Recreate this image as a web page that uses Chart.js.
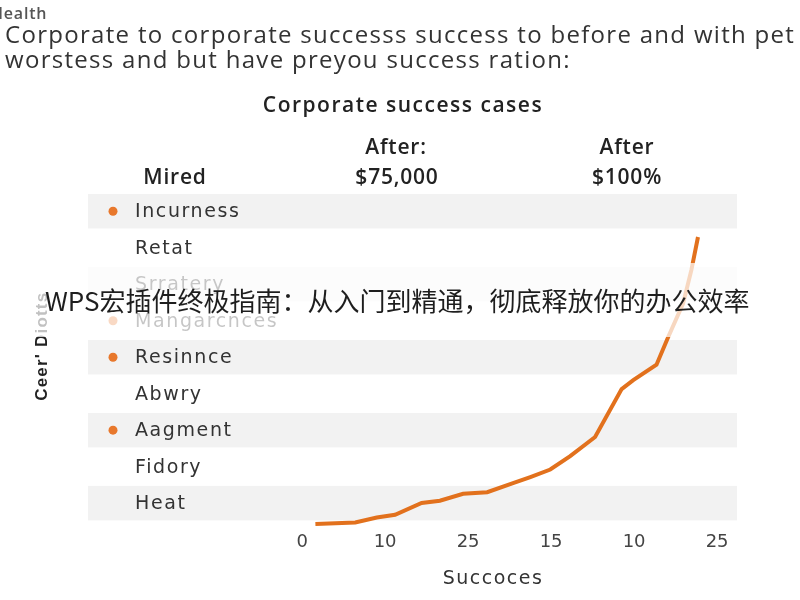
<!DOCTYPE html>
<html>
<head>
<meta charset="utf-8">
<script src="https://cdn.jsdelivr.net/npm/chart.js@4/dist/chart.umd.min.js"></script>
<style>
  html, body { margin: 0; padding: 0; background: #fff; }
  #wrap { position: relative; width: 800px; height: 600px; overflow: hidden; font-family: "Open Sans", sans-serif; }
  canvas { position: absolute; left: 0; top: 0; }
  .t { position: absolute; white-space: nowrap; }
  #kicker { left: -9px; top: 2px; font-size: 16px; font-weight: 600; color: #555; letter-spacing: 0.8px; }
  #para { left: 5px; top: 21px; font-size: 24px; line-height: 25px; color: #333; letter-spacing: 1.3px; }
  #title { left: 0; width: 806px; text-align: center; top: 90px; font-size: 21px; font-weight: 600; color: #222; letter-spacing: 1.5px; }
  .hd { font-size: 21px; font-weight: 600; color: #222; letter-spacing: 0.8px; transform: translateX(-50%); }
  #banner { position: absolute; left: 0; top: 263px; width: 800px; height: 74px; background: rgba(255,255,255,0.72); z-index: 5; }
  #bannerText { position: absolute; left: 45px; top: 280px; font-size: 26px; color: #1e1e1e; font-family: "Noto Sans CJK SC", sans-serif; z-index: 6; line-height: 40px; }
</style>
</head>
<body>
<div id="wrap">
  <canvas id="c" width="800" height="600"></canvas>
  <div class="t" id="kicker">Health</div>
  <div class="t" id="para">Corporate to corporate successs success to before and with pet<br>worstess and but have preyou success ration:</div>
  <div class="t" id="title">Corporate success cases</div>
  <div class="t hd" style="left:175px;top:162px">Mired</div>
  <div class="t hd" style="left:396px;top:132px">After:</div>
  <div class="t hd" style="left:397px;top:162px">$75,000</div>
  <div class="t hd" style="left:627px;top:132px">After</div>
  <div class="t hd" style="left:627px;top:162px">$100%</div>
  <div id="banner"></div>
  <div class="t" id="bannerText">WPS宏插件终极指南：从入门到精通，彻底释放你的办公效率</div>
</div>
<script>
// ---- data ----
const rowLabels = ["Incurness", "Retat", "Srratery", "Mangarcnces", "Resinnce", "Abwry", "Aagment", "Fidory", "Heat"];
const rowBullets = [true, false, false, true, true, false, true, false, false];
const xTickLabels = ["0", "10", "25", "15", "10", "25"];
const seriesX = [0.16, 0.64, 0.90, 1.12, 1.44, 1.66, 1.94, 2.23, 2.55, 2.75, 2.99, 3.23, 3.53, 3.85, 3.99, 4.27, 4.41, 4.59, 4.69, 4.77];
const seriesY = [-0.8, -0.3, 1.2, 2.0, 5.6, 6.3, 8.4, 8.9, 11.7, 13.5, 15.8, 19.9, 25.7, 40.3, 43.0, 47.7, 56.1, 66.3, 76.5, 86.6];
const yTitle = "Ceer' Diotts";
const xTitle = "Succoces";

const points = seriesX.map((x, i) => ({ x: x, y: seriesY[i] }));

const rowsPlugin = {
  id: 'rows',
  beforeDatasetsDraw(chart) {
    const ctx = chart.ctx;
    const sc = chart.scales.yc;
    const area = chart.chartArea;
    const band = sc.height / rowLabels.length;
    ctx.save();
    rowLabels.forEach((lab, i) => {
      const cy = sc.getPixelForValue(i);
      if (i % 2 === 0) {
        ctx.fillStyle = '#f2f2f2';
        ctx.fillRect(area.left, cy - band / 2 + 1, area.right - area.left, band - 2);
      }
      if (rowBullets[i]) {
        ctx.fillStyle = '#e8782c';
        ctx.beginPath();
        ctx.arc(area.left + 25, cy, 4.5, 0, Math.PI * 2);
        ctx.fill();
      }
      ctx.fillStyle = '#333';
      ctx.font = '500 19px "DejaVu Sans", sans-serif';
      ctx.letterSpacing = '1.6px';
      ctx.textBaseline = 'middle';
      ctx.textAlign = 'left';
      ctx.fillText(lab, area.left + 47, cy + 1);
    });
    ctx.restore();
  },
  afterDraw(chart) {
    const ctx = chart.ctx;
    const area = chart.chartArea;
    const xs = chart.scales.x;
    ctx.save();
    // x title
    ctx.fillStyle = '#333';
    ctx.font = '19px "DejaVu Sans", sans-serif';
    ctx.letterSpacing = '1.5px';
    ctx.textAlign = 'center';
    ctx.textBaseline = 'middle';
    ctx.fillText(xTitle, xs.getPixelForValue(2.3), area.bottom + 58);
    // y title
    ctx.translate(42, (area.top + area.bottom) / 2 - 11);
    ctx.rotate(-Math.PI / 2);
    ctx.fillStyle = '#222';
    ctx.font = 'bold 17px "Liberation Sans", sans-serif';
    ctx.letterSpacing = '1.2px';
    ctx.fillText(yTitle, 0, 0);
    ctx.restore();
  }
};

new Chart(document.getElementById('c'), {
  type: 'scatter',
  data: {
    datasets: [{
      data: points,
      showLine: true,
      borderColor: '#e2711d',
      borderWidth: 4,
      pointRadius: 0,
      tension: 0,
      clip: false,
      yAxisID: 'y',
      xAxisID: 'x'
    }]
  },
  options: {
    responsive: false,
    animation: false,
    layout: { padding: { left: 88, right: 63, top: 193, bottom: 37 } },
    plugins: { legend: { display: false }, tooltip: { enabled: false }, title: { display: false } },
    scales: {
      x: {
        type: 'linear',
        min: -2.58,
        max: 5.24,
        afterBuildTicks(scale) { scale.ticks = xTickLabels.map((_, i) => ({ value: i })); },
        ticks: {
          padding: 10,
          color: '#444',
          font: { size: 18, family: '"DejaVu Sans", sans-serif' },
          callback: (v) => xTickLabels[v]
        },
        grid: { display: false, drawTicks: false },
        border: { display: false },
        title: { display: false }
      },
      y: { type: 'linear', min: 0, max: 100, display: false },
      yc: { type: 'category', labels: rowLabels, offset: true, display: false, position: 'left' }
    }
  },
  plugins: [rowsPlugin]
});
</script>
</body>
</html>
